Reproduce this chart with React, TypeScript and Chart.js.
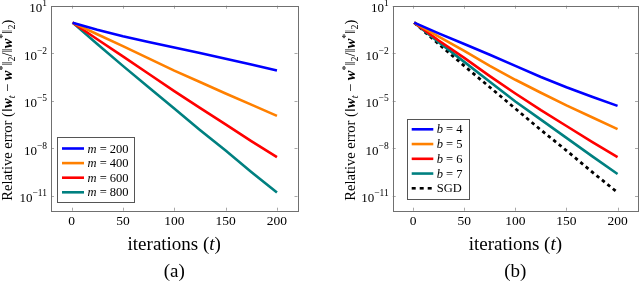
import React, { useEffect, useRef } from 'react';
import { Chart, registerables } from 'chart.js';

Chart.register(...registerables);

// ---------------- data ----------------
const iterations = [1, 25, 50, 75, 100, 125, 150, 175, 200];

// panel (a): number of measurements m
const mLabels = ['200', '400', '600', '800'];
const errM200 = [0.851, 0.302, 0.1175, 0.0513, 0.0229, 0.01023, 0.00447, 0.00191, 7.94e-4];
const errM400 = [0.851, 0.158, 0.0282, 4.68e-3, 7.94e-4, 1.51e-4, 2.82e-5, 5.62e-6, 1.1e-6];
const errM600 = [0.851, 0.0759, 6.31e-3, 5.01e-4, 3.98e-5, 3.55e-6, 3.16e-7, 2.82e-8, 2.69e-9];
const errM800 = [0.851, 0.038, 1.58e-3, 7.08e-5, 3.16e-6, 1.41e-7, 7.08e-9, 3.16e-10, 1.58e-11];

// panel (b): number of bits b, and SGD
const bLabels = ['4', '5', '6', '7'];
const sgdLabel = 'SGD';
const errB4 = [0.851, 0.178, 0.038, 7.94e-3, 1.58e-3, 3.16e-4, 7.08e-5, 1.78e-5, 4.68e-6];
const errB5 = [0.851, 0.112, 0.0141, 1.58e-3, 2.09e-4, 3.16e-5, 5.01e-6, 8.91e-7, 1.58e-7];
const errB6 = [0.851, 0.0631, 5.01e-3, 3.55e-4, 2.82e-5, 2.51e-6, 2.51e-7, 2.51e-8, 2.69e-9];
const errB7 = [0.851, 0.0501, 2.82e-3, 1.58e-4, 8.91e-6, 6.31e-7, 4.47e-8, 3.16e-9, 2.34e-10];
const errSGD = [0.851, 0.038, 1.58e-3, 7.08e-5, 3.16e-6, 1.41e-7, 7.08e-9, 3.16e-10, 1.58e-11];

const xTickValues = [0, 50, 100, 150, 200];
const yTickExponents = [1, -2, -5, -8, -11];
const xMin = -20;
const xMax = 220;
const yMin = 1.12e-12;
const yMax = 10;

// ---------------- style ----------------
const SERIF = "'Liberation Serif', 'DejaVu Serif', serif";
const BLUE = '#0000ff';
const ORANGE = '#ff8000';
const RED = '#ff0000';
const TEAL = '#008080';
const BLACK = '#000000';

type Run = { text: string; size: number; italic?: boolean; bold?: boolean; dy?: number };

function fontOf(r: Run) {
  return `${r.italic ? 'italic ' : ''}${r.bold ? 'bold ' : ''}${r.size}px ${SERIF}`;
}

function drawRuns(ctx: CanvasRenderingContext2D, runs: Run[], x: number, y: number, align: 'left' | 'center' | 'right') {
  const widths = runs.map((r) => {
    ctx.font = fontOf(r);
    return ctx.measureText(r.text).width;
  });
  const total = widths.reduce((a, b) => a + b, 0);
  let cx = align === 'center' ? x - total / 2 : align === 'right' ? x - total : x;
  ctx.textAlign = 'left';
  ctx.textBaseline = 'alphabetic';
  runs.forEach((r, i) => {
    ctx.font = fontOf(r);
    ctx.fillText(r.text, cx, y + (r.dy || 0));
    cx += widths[i];
  });
}

const T = 14.5; // y-title size
const S = 10; // sub/sup size
const yTitleRuns: Run[] = [
  { text: 'Relative error (', size: T },
  { text: '‖', size: T },
  { text: 'w', size: T, italic: true, bold: true },
  { text: 't', size: S, italic: true, dy: 3 },
  { text: ' − ', size: T },
  { text: 'w', size: T, italic: true, bold: true },
  { text: '*', size: S, dy: -6 },
  { text: '‖', size: T },
  { text: '2', size: S, dy: 3 },
  { text: '/‖', size: T },
  { text: 'w', size: T, italic: true, bold: true },
  { text: '*', size: S, dy: -6 },
  { text: '‖', size: T },
  { text: '2', size: S, dy: 3 },
  { text: ')', size: T },
];

const xTitleRuns: Run[] = [
  { text: 'iterations (', size: 19 },
  { text: 't', size: 19, italic: true },
  { text: ')', size: 19 },
];

type LegendItem = { varName: string; value: string; color: string; dash: number[] };
type LegendBox = { left: number; top: number; right: number; bottom: number; firstRow: number; rowGap: number; s0: number; s1: number; textX: number };

type Decor = {
  caption: string;
  yTitleX: number;
  legend: LegendBox;
  items: LegendItem[];
};

const decorPlugin = {
  id: 'decor',
  afterDraw(chart: any, _args: any, opts: Decor) {
    const { ctx, chartArea: ca, scales } = chart;
    const xs = scales.x;
    const ys = scales.y;
    ctx.save();

    // inward tick marks on all four sides
    ctx.strokeStyle = '#a8a8a8';
    ctx.lineWidth = 1;
    ctx.beginPath();
    xTickValues.forEach((v) => {
      const px = Math.round(xs.getPixelForValue(v)) + 0.5;
      ctx.moveTo(px, ca.bottom);
      ctx.lineTo(px, ca.bottom - 3);
      ctx.moveTo(px, ca.top);
      ctx.lineTo(px, ca.top + 3);
    });
    yTickExponents.forEach((e) => {
      const py = Math.round(ys.getPixelForValue(Math.pow(10, e))) + 0.5;
      ctx.moveTo(ca.left, py);
      ctx.lineTo(ca.left + 3, py);
      ctx.moveTo(ca.right, py);
      ctx.lineTo(ca.right - 3, py);
    });
    ctx.stroke();

    // frame
    ctx.strokeStyle = '#707070';
    ctx.strokeRect(Math.round(ca.left) + 0.5, Math.round(ca.top) + 0.5, Math.round(ca.right - ca.left), Math.round(ca.bottom - ca.top));

    // y tick labels 10^e
    ctx.fillStyle = '#000';
    yTickExponents.forEach((e) => {
      const py = ys.getPixelForValue(Math.pow(10, e));
      const exp = e < 0 ? '−' + String(-e) : String(e);
      drawRuns(
        ctx,
        [
          { text: '10', size: 13, dy: 6.5 },
          { text: exp, size: 9.5, dy: 0.5 },
        ],
        ca.left - 4,
        py,
        'right'
      );
    });

    // x title and caption
    const cxm = (ca.left + ca.right) / 2;
    drawRuns(ctx, xTitleRuns, cxm, 250, 'center');
    drawRuns(ctx, [{ text: opts.caption, size: 19 }], cxm, 277, 'center');

    // y title (rotated)
    ctx.save();
    ctx.translate(opts.yTitleX, (ca.top + ca.bottom) / 2 + 2);
    ctx.rotate(-Math.PI / 2);
    drawRuns(ctx, yTitleRuns, 0, 5, 'center');
    ctx.restore();

    // legend
    const L = opts.legend;
    ctx.fillStyle = '#fff';
    ctx.fillRect(L.left, L.top, L.right - L.left, L.bottom - L.top);
    ctx.strokeStyle = '#555';
    ctx.lineWidth = 1;
    ctx.strokeRect(Math.round(L.left) + 0.5, Math.round(L.top) + 0.5, Math.round(L.right - L.left), Math.round(L.bottom - L.top));
    opts.items.forEach((it, i) => {
      const y = L.firstRow + i * L.rowGap;
      ctx.strokeStyle = it.color;
      ctx.lineWidth = 2.6;
      ctx.setLineDash(it.dash);
      ctx.beginPath();
      ctx.moveTo(L.s0, y);
      ctx.lineTo(L.s1, y);
      ctx.stroke();
      ctx.setLineDash([]);
      ctx.fillStyle = '#000';
      const runs: Run[] = it.varName
        ? [
            { text: it.varName, size: 12.5, italic: true },
            { text: ' = ' + it.value, size: 12.5 },
          ]
        : [{ text: it.value, size: 12.5 }];
      drawRuns(ctx, runs, L.textX, y + 4, 'left');
    });

    ctx.restore();
  },
};

type Series = { varName: string; value: string; data: number[]; color: string; dash: number[] };

function buildChart(canvas: HTMLCanvasElement, series: Series[], yAxisWidth: number, padRight: number, decor: Decor) {
  const datasets = series.map((s) => ({
    label: s.varName ? `${s.varName} = ${s.value}` : s.value,
    data: iterations.map((t, i) => ({ x: t, y: s.data[i] })),
    borderColor: s.color,
    backgroundColor: s.color,
    borderWidth: s.dash.length ? 2.8 : 2.6,
    borderDash: s.dash,
    pointRadius: 0,
    tension: 0,
    fill: false,
  }));
  return new Chart(canvas, {
    type: 'line',
    data: { datasets },
    plugins: [decorPlugin],
    options: {
      animation: false,
      responsive: false,
      devicePixelRatio: 1,
      layout: { padding: { left: 0, right: padRight, top: 5.7, bottom: 0 } },
      plugins: {
        legend: { display: false },
        tooltip: { enabled: false },
        decor: decor,
      } as any,
      scales: {
        x: {
          type: 'linear',
          min: xMin,
          max: xMax,
          grid: { display: false, drawTicks: false },
          border: { display: false },
          afterBuildTicks: (s: any) => {
            s.ticks = xTickValues.map((v) => ({ value: v }));
          },
          afterFit: (s: any) => {
            s.height = 73.3;
          },
          ticks: {
            color: '#000',
            font: { family: SERIF, size: 13.5 },
            padding: 3,
            maxRotation: 0,
            callback: (v: any) => String(v),
          },
        },
        y: {
          type: 'logarithmic',
          min: yMin,
          max: yMax,
          grid: { display: false, drawTicks: false },
          border: { display: false },
          afterBuildTicks: (s: any) => {
            s.ticks = yTickExponents.map((e) => ({ value: Math.pow(10, e) }));
          },
          afterFit: (s: any) => {
            s.width = yAxisWidth;
          },
          ticks: { display: false },
        },
      },
    } as any,
  });
}

const leftSeries: Series[] = [
  { varName: 'm', value: mLabels[0], data: errM200, color: BLUE, dash: [] },
  { varName: 'm', value: mLabels[1], data: errM400, color: ORANGE, dash: [] },
  { varName: 'm', value: mLabels[2], data: errM600, color: RED, dash: [] },
  { varName: 'm', value: mLabels[3], data: errM800, color: TEAL, dash: [] },
];

const rightSeries: Series[] = [
  { varName: 'b', value: bLabels[0], data: errB4, color: BLUE, dash: [] },
  { varName: 'b', value: bLabels[1], data: errB5, color: ORANGE, dash: [] },
  { varName: 'b', value: bLabels[2], data: errB6, color: RED, dash: [] },
  { varName: 'b', value: bLabels[3], data: errB7, color: TEAL, dash: [] },
  { varName: '', value: sgdLabel, data: errSGD, color: BLACK, dash: [3.5, 3.5] },
];

function Panel(props: { series: Series[]; yAxisWidth: number; padRight: number; decor: Decor; left: number }) {
  const ref = useRef<HTMLCanvasElement>(null);
  useEffect(() => {
    if (!ref.current) return;
    const chart = buildChart(ref.current, props.series, props.yAxisWidth, props.padRight, props.decor);
    return () => chart.destroy();
  }, []);
  return (
    <canvas
      ref={ref}
      width={320}
      height={284}
      style={{ position: 'absolute', left: props.left, top: 0, width: 320, height: 284 }}
    />
  );
}

export default function App() {
  const leftDecor: Decor = {
    caption: '(a)',
    yTitleX: 7,
    legend: { left: 57, top: 137, right: 134, bottom: 202, firstRow: 148.5, rowGap: 14.6, s0: 62, s1: 84, textX: 87.5 },
    items: leftSeries.map((s) => ({ varName: s.varName, value: s.value, color: s.color, dash: s.dash })),
  };
  const rightDecor: Decor = {
    caption: '(b)',
    yTitleX: 29.7,
    legend: { left: 86.5, top: 119, right: 148.5, bottom: 199, firstRow: 129.3, rowGap: 14.75, s0: 91.7, s1: 113.3, textX: 116.7 },
    items: rightSeries.map((s) => ({ varName: s.varName, value: s.value, color: s.color, dash: s.dash.length ? [4, 4] : [] })),
  };
  return (
    <div style={{ position: 'fixed', left: 0, top: 0, width: 640, height: 284, background: '#fff' }}>
      <Panel series={leftSeries} yAxisWidth={51} padRight={22.5} decor={leftDecor} left={0} />
      <Panel series={rightSeries} yAxisWidth={72.7} padRight={2} decor={rightDecor} left={320} />
    </div>
  );
}
